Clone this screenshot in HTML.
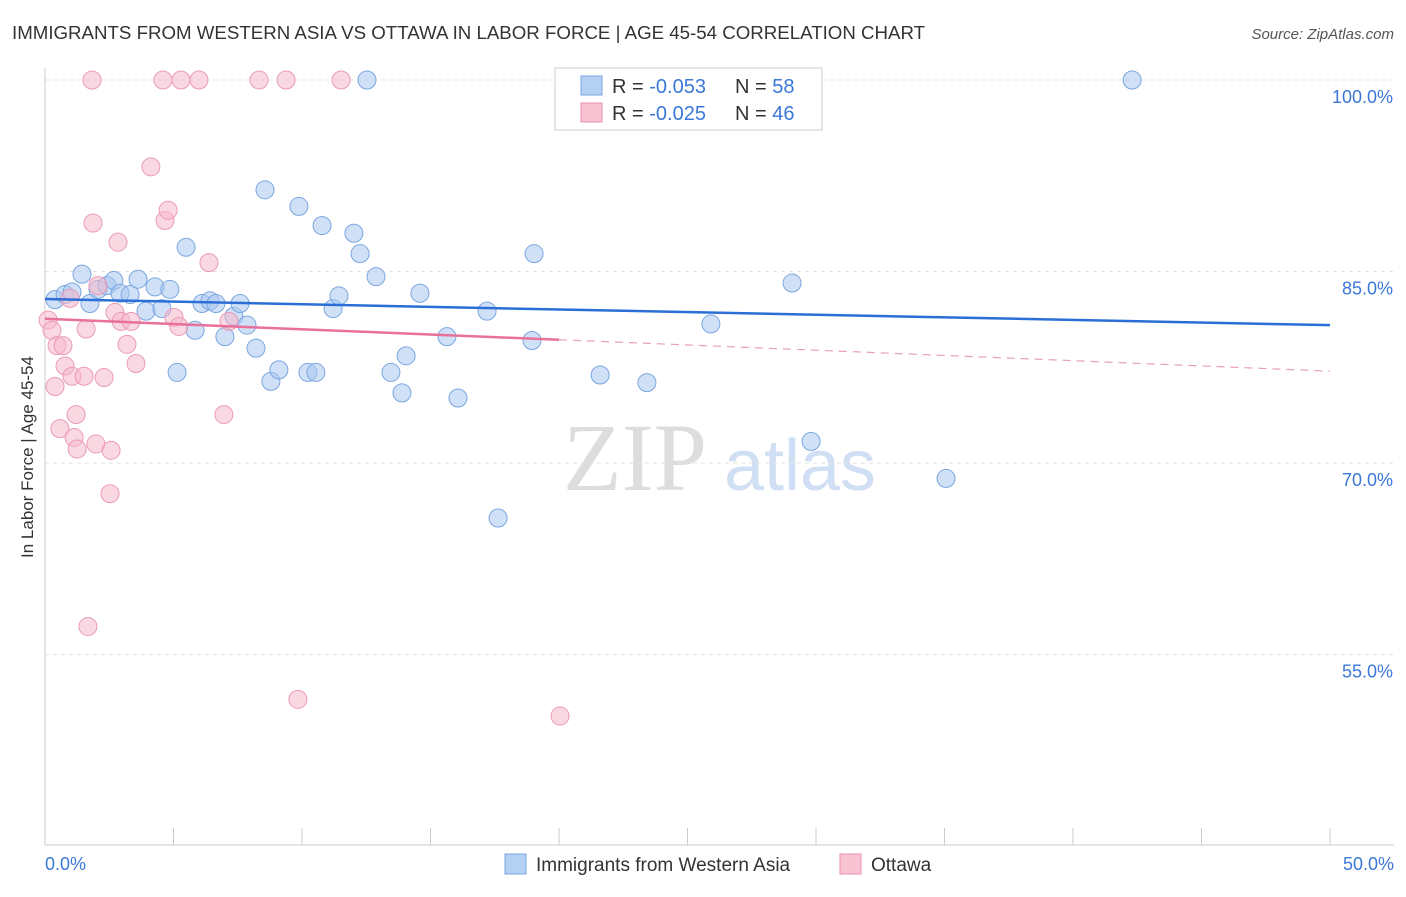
<!DOCTYPE html>
<html><head><meta charset="utf-8"><style>
body{margin:0;background:#fff;font-family:"Liberation Sans",sans-serif;}
</style></head><body>
<svg id="chart" width="1406" height="892" xmlns="http://www.w3.org/2000/svg" font-family="Liberation Sans, sans-serif">
<text x="12" y="39" font-size="18.7" fill="#333">IMMIGRANTS FROM WESTERN ASIA VS OTTAWA IN LABOR FORCE | AGE 45-54 CORRELATION CHART</text>
<text x="1394" y="39" font-size="15" fill="#555" text-anchor="end" font-style="italic">Source: ZipAtlas.com</text>
<text transform="translate(33,457) rotate(-90)" font-size="17" fill="#333" text-anchor="middle">In Labor Force | Age 45-54</text>
<g><text x="635" y="490" font-size="96" fill="#ddd" text-anchor="middle" font-family="Liberation Serif, serif">ZIP</text><text x="800" y="490" font-size="72" fill="#d0dff3" text-anchor="middle">atlas</text></g>
<g id="grid"></g><g id="axes"></g><g id="marks"></g>
<g>
<rect x="555" y="68" width="267" height="62" fill="#fff" stroke="#ccc"/>
<rect x="581" y="76" width="21" height="19" fill="#b4d0f3" stroke="#7aa6e0"/>
<rect x="581" y="103" width="21" height="19" fill="#f8c4d4" stroke="#eb8fae"/>
<text x="612" y="93" font-size="20" fill="#333">R = <tspan fill="#3b78d8">-0.053</tspan></text>
<text x="735" y="93" font-size="20" fill="#333">N = <tspan fill="#3b78d8">58</tspan></text>
<text x="612" y="120" font-size="20" fill="#333">R = <tspan fill="#3b78d8">-0.025</tspan></text>
<text x="735" y="120" font-size="20" fill="#333">N = <tspan fill="#3b78d8">46</tspan></text>
</g>
<g>
<rect x="505" y="854" width="21" height="20" fill="#b4d0f3" stroke="#7aa6e0"/>
<text x="536" y="871" font-size="19" fill="#333">Immigrants from Western Asia</text>
<rect x="840" y="854" width="21" height="20" fill="#f8c4d4" stroke="#eb8fae"/>
<text x="871" y="871" font-size="19" fill="#333">Ottawa</text>
</g>
</svg>
<script>
const blueX=[0.39,0.78,1.05,1.44,1.75,2.06,2.41,2.68,2.92,3.31,3.62,3.93,4.28,4.55,4.86,5.14,5.49,5.84,6.11,6.42,6.65,7.00,7.35,7.59,7.86,8.21,8.56,8.79,9.10,9.88,10.23,10.54,10.78,11.21,11.44,12.02,12.26,12.88,13.46,13.89,14.05,14.59,15.64,16.07,17.20,17.63,18.95,19.03,20.47,21.60,23.42,25.91,29.07,29.81,35.06,42.30,12.53];
const blueY=[82.8,83.2,83.4,84.8,82.5,83.6,83.9,84.3,83.3,83.2,84.4,81.9,83.8,82.1,83.6,77.1,86.9,80.4,82.5,82.7,82.5,79.9,81.5,82.5,80.8,79.0,91.4,76.4,77.3,90.1,77.1,77.1,88.6,82.1,83.1,88.0,86.4,84.6,77.1,75.5,78.4,83.3,79.9,75.1,81.9,65.7,79.6,86.4,100,76.9,76.3,80.9,84.1,71.7,68.8,100,100];
const pinkX=[0.12,0.27,0.39,0.47,0.58,0.70,0.78,0.97,1.05,1.13,1.21,1.25,1.52,1.60,1.67,1.83,1.87,1.98,2.06,2.30,2.53,2.57,2.72,2.84,2.96,3.19,3.35,3.54,4.12,4.59,4.67,4.79,5.02,5.21,5.29,5.99,6.38,6.96,7.16,8.33,9.38,9.84,11.52,20.04];
const pinkY=[81.2,80.4,76.0,79.2,72.7,79.2,77.6,82.9,76.8,72.0,73.8,71.1,76.8,80.5,57.2,100,88.8,71.5,83.9,76.7,67.6,71.0,81.8,87.3,81.1,79.3,81.1,77.8,93.2,100,89.0,89.8,81.4,80.7,100,100,85.7,73.8,81.1,100,100,51.5,100,50.2];
const yTicks=[100,85,70,55];
const yTickLabels=["100.0%","85.0%","70.0%","55.0%"];
const xTickLabels=["0.0%","50.0%"];
const blueTrend=[82.85,80.8];
const pinkTrend=[81.3,77.2];
const pinkSolidEnd=20;
const NS="http://www.w3.org/2000/svg";
const xs=v=>45+v/50*1285, ys=v=>80+(100-v)*12.77;
function mk(t,a,p){const e=document.createElementNS(NS,t);for(const k in a)e.setAttribute(k,a[k]);document.getElementById(p).appendChild(e);return e;}
yTicks.forEach((t,i)=>{
 const l=mk('line',{x1:45,x2:1394,y1:ys(t),y2:ys(t),stroke:'#e3e3e3','stroke-dasharray':'4,4'},'grid');
 
 
 const tx=mk('text',{x:1393,y:ys(t)+23,'font-size':18,fill:'#3b78d8','text-anchor':'end'},'axes');tx.textContent=yTickLabels[i];
 
 
});
mk('line',{x1:45,x2:45,y1:68,y2:845,stroke:'#ccc'},'axes');
mk('line',{x1:45,x2:1394,y1:845,y2:845,stroke:'#ccc'},'axes');
for(let i=0;i<=10;i++){mk('line',{x1:xs(i*5),x2:xs(i*5),y1:828,y2:845,stroke:'#ccc'},'axes');}
[[0,'start',45],[1,'end',1394]].forEach(([i,a,x])=>{const t=mk('text',{x:x,y:870,'font-size':18,fill:'#3b78d8','text-anchor':a},'axes');t.textContent=xTickLabels[i];
 
 });
function pts(X,Y,f,s,n){X.forEach((x,i)=>{const c=mk('circle',{cx:xs(x),cy:ys(Y[i]),r:9,fill:f,'fill-opacity':0.55,stroke:s,'stroke-width':1},'marks');
 
 });}
pts(blueX,blueY,'#a9c8f0','#7aa6e0','blue-point');
pts(pinkX,pinkY,'#f5b8cb','#eb9ab6','pink-point');
const bl=mk('line',{x1:xs(0),y1:ys(blueTrend[0]),x2:xs(50),y2:ys(blueTrend[1]),stroke:'#2b6fd6','stroke-width':2.5},'marks');


const pm=pinkTrend[0]+(pinkTrend[1]-pinkTrend[0])*pinkSolidEnd/50;
const pl=mk('line',{x1:xs(0),y1:ys(pinkTrend[0]),x2:xs(pinkSolidEnd),y2:ys(pm),stroke:'#e8709a','stroke-width':2.5},'marks');


const pd=mk('line',{x1:xs(pinkSolidEnd),y1:ys(pm),x2:xs(50),y2:ys(pinkTrend[1]),stroke:'#e8a0b8','stroke-width':1.2,'stroke-dasharray':'8,6'},'marks');


</script>
</body></html>
